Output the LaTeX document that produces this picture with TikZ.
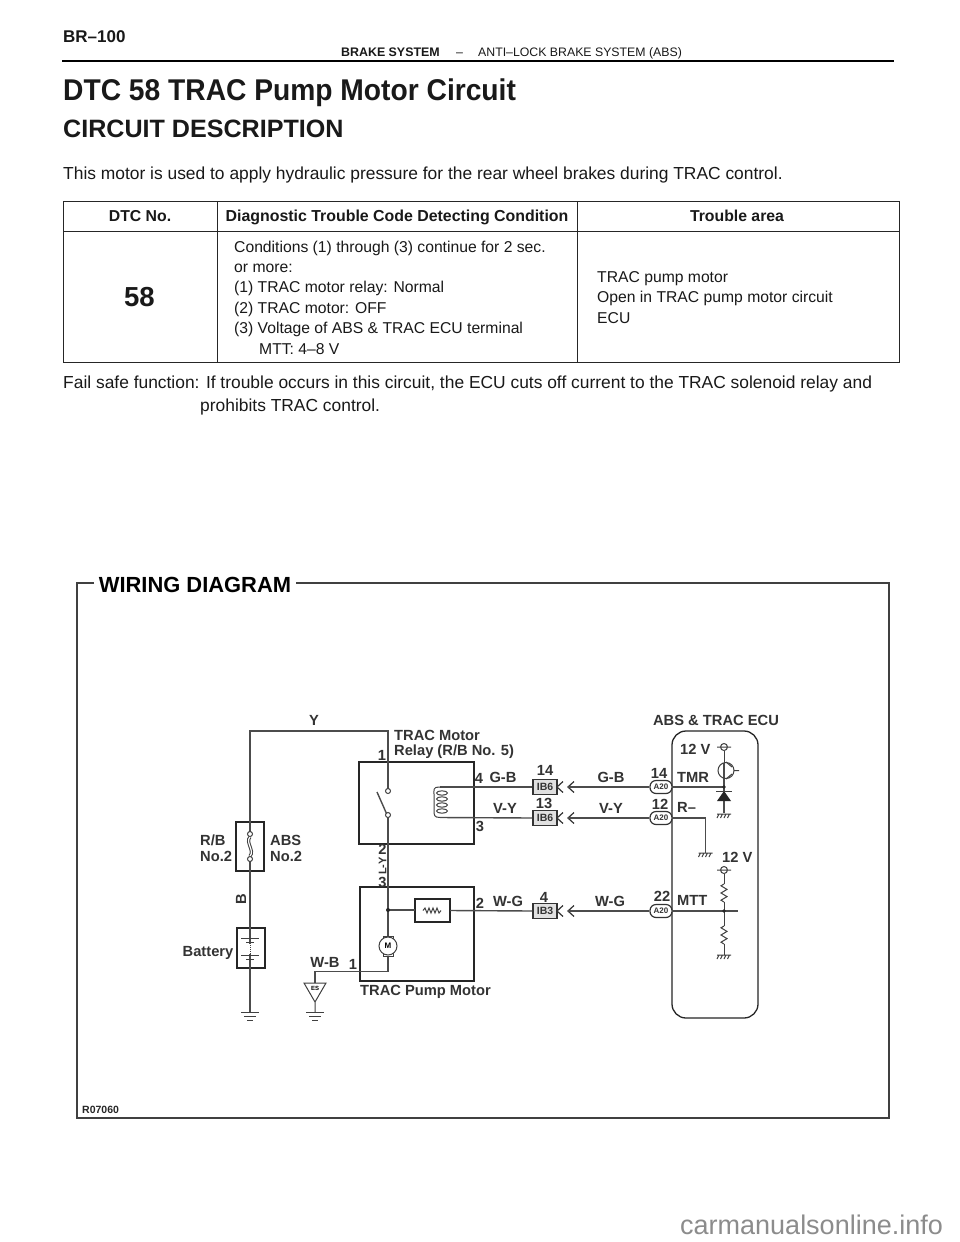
\documentclass[tikz,border=0pt]{standalone}
\usepackage{fontspec}
\setmainfont{Liberation Sans}
\usetikzlibrary{calc}
\newcommand{\fz}[1]{\fontsize{#1}{#1}\selectfont}
\tikzset{
  x=1pt,y=-1pt,
  txt/.style={inner sep=0pt,anchor=base west,text=black!90},
  ctr/.style={inner sep=0pt,anchor=center,text=black!90},
  lab/.style={inner sep=0pt,anchor=center,font=\fz{14.7}\bfseries,text=black!80},
  rule/.style={line width=1.0pt,draw=black!85},
  wire/.style={line width=1.4pt,draw=black!70},
  thinw/.style={line width=1.0pt,draw=black!75},
  box/.style={line width=1.3pt,draw=black!85},
  gndsym/.pic={\draw[thinw] (-9,0)--(9,0) (-6,4)--(6,4) (-3,8)--(3,8);},
  hatchsym/.pic={\draw[thinw] (-7,0)--(7,0) (-5,0)--(-7,4) (-1.5,0)--(-3.5,4) (2,0)--(0,4) (5.5,0)--(3.5,4);},
  srcsym/.pic={\draw[thinw] (0,0) circle (3.5) (-7,0)--(7,0);},
  chev/.pic={\draw[line width=1.2pt,draw=black!80] (6,-5.5)--(0,0)--(6,5.5) (17,-5.5)--(11,0)--(17,5.5);},
  zig/.pic={\draw[thinw] (0,0)--(-3,1.8)--(3,5.4)--(-3,9)--(3,12.6)--(-3,16.2)--(0,18);},
}
\begin{document}
\begin{tikzpicture}
\useasboundingbox (0,0) rectangle (960,1242);
\fill[white] (0,0) rectangle (960,1242);
% page header
\node[txt,font=\fz{17}\bfseries] (pg) at (63,42) {BR–100};
\node[txt,font=\fz{12.4}\bfseries] (hd1) at (341,56) {BRAKE SYSTEM};
\node[txt,font=\fz{12.4}] (hd2) at (456,56) {–};
\node[txt,font=\fz{12.3}] (hd3) at (478,56) {ANTI–LOCK BRAKE SYSTEM (ABS)};
\draw[line width=1.4pt] (62,61)--(894,61);
\node[txt,font=\fz{30}\bfseries] (title) at (63,100) {\scalebox{.94}[1]{DTC 58 TRAC Pump Motor Circuit}};
\node[txt,font=\fz{25.1}\bfseries] (sub) at (63,137) {CIRCUIT DESCRIPTION};
\node[txt,font=\fz{17.4}] (intro) at (63,179) {This motor is used to apply hydraulic pressure for the rear wheel brakes during TRAC control.};
% table
\draw[rule] (63,201) rectangle (899,362) (63,231)--(899,231) (217.5,201)--(217.5,362) (577,201)--(577,362);
\node[txt,anchor=base,font=\fz{15.8}\bfseries] (h1) at (140,221) {DTC No.};
\node[txt,anchor=base,font=\fz{15.9}\bfseries] (h2) at (397,221) {Diagnostic Trouble Code Detecting Condition};
\node[txt,anchor=base,font=\fz{15.8}\bfseries] (h3) at (737,221) {Trouble area};
\node[ctr,font=\fz{27.5}\bfseries] (n58) at (139.5,297) {58};
\foreach \t/\y/\x/\n in {{Conditions (1) through (3) continue for 2 sec.}/252/234/c1,{or more:}/272/234/c2,{(1) TRAC motor relay: Normal}/292/234/c3,{(2) TRAC motor: OFF}/313/234/c4,{(3) Voltage of ABS \& TRAC ECU terminal}/333/234/c5,{MTT: 4–8 V}/354/259/c6,{TRAC pump motor}/282/597/r1,{Open in TRAC pump motor circuit}/302/597/r2,{ECU}/323/597/r3}
  \node[txt,font=\fz{15.7}] (\n) at (\x,\y) {\t};
\node[txt,font=\fz{17.4}] (fs1) at (63,388) {Fail safe function: If trouble occurs in this circuit, the ECU cuts off current to the TRAC solenoid relay and};
\node[txt,font=\fz{17.4}] (fs2) at (200,411) {prohibits TRAC control.};
% wiring frame
\node[inner sep=0pt,anchor=center,font=\fz{21.9}\bfseries,text=black] (wd) at (195,585) {WIRING DIAGRAM};
\draw[line width=1.4pt,draw=black!75] (94,583) -- (77,583) -- (77,1118) -- (889,1118) -- (889,583) -- (296,583);
\node[inner sep=0pt,anchor=west,font=\fz{10.5}\bfseries,text=black!85] (rn) at (82,1110) {R07060};
% boxes
\draw[box] (359,762) rectangle (474,844);
\draw[box] (360,887) rectangle (474,981);
\draw[box] (236,822) rectangle (264,871);
\draw[box] (237,928) rectangle (265,968);
\draw[box] (415,899) rectangle (450,922);
\draw[box,rounded corners=14pt] (672,731) rectangle (758,1018);
% named points
\coordinate (fuT) at (250,834); \coordinate (fuB) at (250,859);
\coordinate (swT) at (388,791); \coordinate (swB) at (388,815);
\coordinate (mj) at (388,910);
\coordinate (g1) at (250,1012); \coordinate (g2) at (315,1012);
% wires
\draw[wire] (fuT) -- (250,731) -- (388,731) -- (swT);
\draw[wire] (fuB) -- (g1);
\draw[wire] (swB) -- (mj) -- (388,936);
\draw[wire] (mj) -- (415,910);
% connector shells
\foreach \y/\n in {787/a,818/b,911/c} {
  \node[draw=black!80,line width=1.2pt,rounded corners=6pt,minimum width=22pt,minimum height=13pt,inner sep=0pt,fill=white,font=\fz{8}\bfseries,text=black!80] (A\n) at (661,\y) {A20};
}
\foreach \y/\n/\t in {787/a/IB6,818/b/IB6,911/c/IB3} {
  \node[draw=black!80,line width=1.3pt,minimum width=24pt,minimum height=15.5pt,inner sep=0pt,fill=black!12,font=\fz{10.5}\bfseries,text=black!80] (I\n) at (545,\y) {\t};
  \path (557,\y) pic {chev};
  \coordinate (Ch\n) at (568,\y);
}
\draw[wire] (450,910.5) -- (Ic.west);
\draw[wire] (440,787) -- (Ia.west);
\draw[wire] (440,817.5) -- (Ib.west);
\draw[wire] (Cha) -- (Aa.west);
\draw[wire] (Chb) -- (Ab.west);
\draw[wire] (Chc) -- (Ac.west);
\fill[black!85] (mj) circle (2);
% relay
\draw[thinw,fill=white] (swT) circle (2.5);
\draw[thinw,fill=white] (swB) circle (2.5);
\draw[wire] (377,792) -- (386.5,813.5);
\draw[thinw] (441,787) -- (439,787) .. controls (433,787) and (434,790) .. (434,794) -- (434,810) .. controls (434,815) and (434,817.5) .. (440,817.5);
\foreach \y in {793,799,805,811}
  \draw[thinw] (442,\y) ellipse (5.5 and 2.2);
% fuse
\draw[thinw,double=white,double distance=1.2pt] (250,837) .. controls (245,842) and (255,851) .. (250,856);
\draw[thinw,fill=white] (fuT) circle (2.5);
\draw[thinw,fill=white] (fuB) circle (2.5);
% battery
\draw[line width=2pt,draw=white] (250,944)--(250,954);
\draw[thinw] (241,938.5)--(259,938.5) (246,942.5)--(254,942.5);
\draw[thinw] (241,955)--(259,955) (246,959)--(254,959);
\draw[thinw,densely dotted] (250,945)--(250,954);
% motor
\draw[wire] (388,956) -- (388,971.5) -- (315,971.5) -- (315,983);
\draw[thinw,fill=white] (383,936) rectangle (393,956);
\draw[thinw,fill=white] (388,946) circle (9);
\node[inner sep=0pt,font=\fz{8}\bfseries] (mm) at (388,946) {M};
% pump resistor
\draw[thinw] (423,910.5)--(425,908)--(427,913)--(429,908)--(431,913)--(433,908)--(435,913)--(437,908)--(439,913)--(441,910.5);
% grounds
\path (g1) pic {gndsym};
\path (g2) pic {gndsym};
\draw[thinw] (304,983) -- (326,983) -- (315,1002) -- cycle (315,1002) -- (g2);
\node[inner sep=0pt,font=\fz{6}\bfseries] (es) at (315,988.5) {ES};
% ECU internals
\path (724,747) pic {srcsym};
\draw[thinw] (724,750.5) -- (724,763);
\draw[wire] (724,763) -- (724,813);
\draw[wire] (672,787) -- (724,787);
\fill[black!85] (724,787) circle (1.8);
\draw[thinw] (726,770.5) circle (8);
\draw[thinw] (734,770.5) -- (739,770.5) (726,762)--(732,767) (726,779)--(732,774);
\fill[black!85] (717,801) -- (731,801) -- (724,791) -- cycle;
\draw[thinw] (716,791) -- (732,791);
\path (724,814) pic {hatchsym};
\draw[wire] (672,818) -- (705.5,818) -- (705.5,853);
\path (705.5,853) pic {hatchsym};
\path (724,870) pic {srcsym};
\draw[thinw] (724,873.5) -- (724,884);
\path (724,884) pic {zig};
\draw[thinw] (724,902) -- (724,926);
\path (724,926) pic {zig};
\draw[thinw] (724,944) -- (724,955);
\path (724,955) pic {hatchsym};
\draw[wire] (672,911) -- (738,911);
\fill[black!85] (724,911) circle (1.8);
% labels
\foreach \x/\y/\t/\n in {
 314/720/Y/l1, 382/755/1/l2, 479/778/4/l3, 480/826/3/l4, 480/903/2/l5, 353/964/1/l6,
 382.5/849/2/l7, 382.5/882/3/l8,
 503/777/G-B/l9, 505/808/V-Y/l10, 508/901/W-G/l11,
 611/777/G-B/l12, 611/808/V-Y/l13, 610/901/W-G/l14,
 545/770/14/l15, 544/803/13/l16, 544/897/4/l17,
 659/773/14/l18, 660/804/12/l19, 662/896/22/l20,
 325/962/W-B/l21, 208/953/Battery/l22, 716/720/ABS \& TRAC ECU/l23,
 425.5/992/TRAC Pump Motor/l24}
  \node[lab] (\n) at (\x,\y) {\t};
\node[lab,anchor=base west] (l25) at (394,740) {TRAC Motor};
\node[lab,anchor=base west] (l26) at (394,755) {Relay (R/B No. 5)};
\node[lab,anchor=west] (l27) at (200,840) {R/B};
\node[lab,anchor=west] (l28) at (200,856) {No.2};
\node[lab,anchor=west] (l29) at (270,840) {ABS};
\node[lab,anchor=west] (l30) at (270,856) {No.2};
\node[lab,rotate=90,font=\fz{11}\bfseries] (l31) at (382.5,866) {L-Y};
\node[lab,rotate=90] (l32) at (241,899) {B};
\node[lab,anchor=west] (l33) at (680,749) {12 V};
\node[lab,anchor=west] (l34) at (677,777) {TMR};
\node[lab,anchor=west] (l35) at (677,807) {R–};
\node[lab,anchor=west] (l36) at (677,900) {MTT};
\node[lab,anchor=west] (l37) at (722,857) {12 V};
% watermark
\node[inner sep=0pt,anchor=base west,font=\fz{27},text=black!45] (wm) at (680,1234) {carmanualsonline.info};
\end{tikzpicture}
\end{document}
